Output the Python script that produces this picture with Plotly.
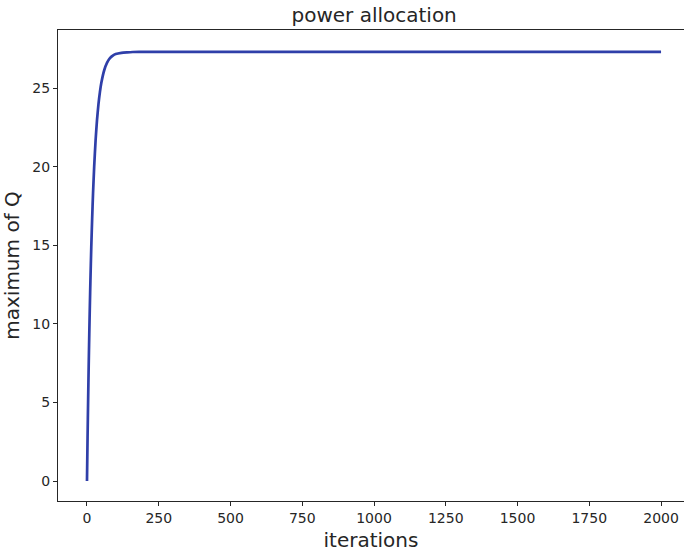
import plotly.graph_objects as go

iterations = [0, 2, 4, 6, 8, 10, 12, 15, 18, 21, 25, 30, 35, 40, 45, 50, 60, 70, 80, 90,
              100, 120, 140, 160, 200, 300, 500, 1000, 1500, 2000]
max_q = [0.0, 2.73, 5.19, 7.40, 9.39, 11.17, 12.78, 14.91, 16.71, 18.27, 19.98, 21.68,
         22.99, 23.97, 24.74, 25.33, 26.13, 26.61, 26.90, 27.06, 27.16, 27.24, 27.27,
         27.29, 27.30, 27.30, 27.30, 27.30, 27.30, 27.30]
x_ticks = [0, 250, 500, 750, 1000, 1250, 1500, 1750, 2000]
y_ticks = [0, 5, 10, 15, 20, 25]

FONT = "DejaVu Sans"

fig = go.Figure()
fig.add_trace(go.Scatter(x=iterations, y=max_q, mode="lines",
                         line=dict(color="#2f3fa9", width=2.7, shape="spline", smoothing=0.6),
                         showlegend=False))

fig.update_layout(
    width=684, height=552,
    margin=dict(l=58, r=0, t=30, b=51),
    paper_bgcolor="white", plot_bgcolor="white",
    font=dict(family=FONT, color="#262626"),
    title=dict(text="power allocation", x=0.505, xref="paper", xanchor="center",
               y=1 - 15 / 552, yref="container", yanchor="middle",
               font=dict(family=FONT, size=20, color="#262626")),
)
fig.update_xaxes(
    range=[-101, 2080], tickvals=x_ticks, ticktext=[str(v) for v in x_ticks],
    showgrid=False, zeroline=False, showline=True, linecolor="#262626", linewidth=1,
    mirror=True, ticks="outside", ticklen=4, tickcolor="#262626",
    tickfont=dict(family=FONT, size=14, color="#262626"),
    title=dict(text="iterations", font=dict(family=FONT, size=20, color="#262626"), standoff=8),
)
fig.update_yaxes(
    range=[-1.27, 28.69], tickvals=y_ticks, ticktext=[str(v) for v in y_ticks],
    showgrid=False, zeroline=False, showline=True, linecolor="#262626", linewidth=1,
    mirror=False, ticks="outside", ticklen=4, tickcolor="#262626",
    tickfont=dict(family=FONT, size=14, color="#262626"),
    title=dict(text="maximum of Q", font=dict(family=FONT, size=20, color="#262626"), standoff=8),
)

fig.write_html("out.html", config={"displayModeBar": False},
               post_script="document.body.style.margin='0';document.body.style.padding='0';")
